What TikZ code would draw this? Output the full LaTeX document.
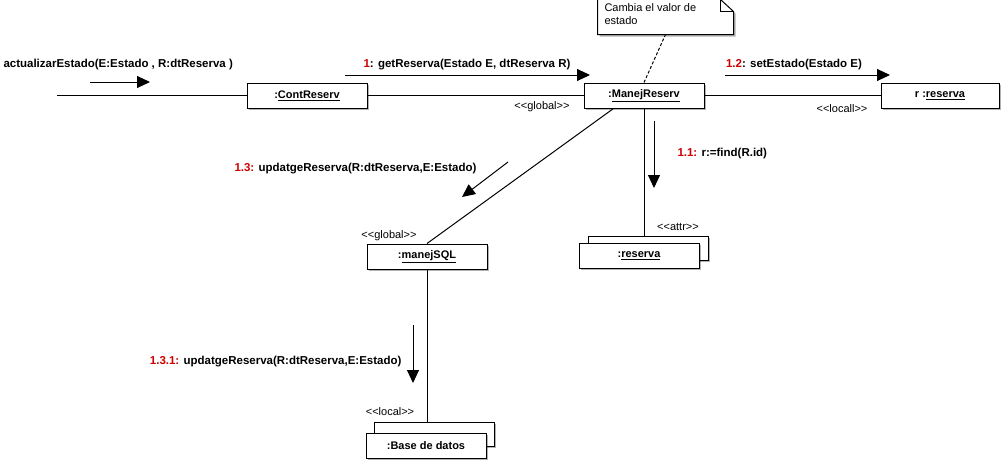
\documentclass[tikz,border=0pt]{standalone}
\usepackage{fontspec}
\setmainfont{Liberation Sans}
\usetikzlibrary{arrows.meta,shadows}
\definecolor{seqred}{RGB}{204,0,0}
\newcommand{\seqno}[1]{\textcolor{seqred}{#1}}
\newcommand{\stereotxt}[1]{<\kern0pt<#1>\kern0pt>}

\begin{document}
\begin{tikzpicture}[x=1pt,y=-1pt,line width=1pt,
	shade/.style={drop shadow={shadow xshift=2pt,shadow yshift=-2pt,opacity=.3,fill=black}},
	obj/.style={draw,fill=white,shade,minimum width=120pt,minimum height=25pt,inner sep=0pt,
		font=\fontsize{11}{13}\selectfont\bfseries},
	msg/.style={-{Triangle[length=13pt,width=12pt]}},
	lbl/.style={font=\fontsize{11.5}{13}\selectfont\bfseries,inner sep=0pt},
	stereo/.style={font=\fontsize{11}{13}\selectfont,inner sep=0pt}]
	\useasboundingbox (0,0) rectangle (1006,463);
	% objects
	\node[obj] (cont) at (307,95.5) {:\underline{ContReserv}};
	\node[obj] (manej) at (644,95.5) {:\underline{ManejReserv}};
	\node[obj,minimum width=118pt] (rres) at (940,95.5) {r :\underline{reserva}};
	\node[obj,minimum height=24pt] (resback) at (648,248) {};
	\node[obj] (res) at (639,255.5) {:\underline{reserva}};
	\node[obj] (sql) at (427,256.5) {:\underline{manejSQL}};
	\node[obj,minimum height=24pt] (dbback) at (434,434) {};
	\node[obj] (db) at (426,445.5) {:Base de datos};
	% note
	\node[minimum width=135pt,minimum height=34pt,inner sep=0pt] (note) at (665.5,17) {};
	\draw[fill=white,shade] (note.south west) -- (note.north west) -- ([xshift=-13pt]note.north east)
		-- ([yshift=-12pt]note.north east) -- (note.south east) -- cycle;
	\draw ([xshift=-13pt]note.north east) |- ([yshift=-12pt]note.north east);
	\node[stereo,anchor=north west,align=left] (notetxt) at (604,3) {Cambia el valor de\\estado};
	\draw[dash pattern=on 3pt off 2pt] (manej.north) -- (note.south);
	% links
	\coordinate (start) at (57,95.5);
	\draw (start) -- (cont.west);
	\draw (cont.east) -- (manej.west);
	\draw (manej.east) -- (rres.west);
	\draw (manej.south) -- (manej.south |- resback.north);
	\draw (manej.south west) ++(30,0) -- (sql.north);
	\draw (sql.south) -- (sql.south |- dbback.north);
	% messages
	\coordinate (m0a) at (90,82);    \coordinate (m0b) at (150,82);
	\coordinate (m1a) at (345,75);   \coordinate (m1b) at (590,75);
	\coordinate (m2a) at (725,75);   \coordinate (m2b) at (890,75);
	\coordinate (m3a) at (654,121);  \coordinate (m3b) at (654,188);
	\coordinate (m4a) at (508,162);  \coordinate (m4b) at (462,197);
	\coordinate (m5a) at (413,325);  \coordinate (m5b) at (413,383);
	\draw[msg] (m0a) -- (m0b);
	\draw[msg] (m1a) -- (m1b);
	\draw[msg] (m2a) -- (m2b);
	\draw[msg] (m3a) -- (m3b);
	\draw[msg] (m4a) -- (m4b);
	\draw[msg] (m5a) -- (m5b);
	\node[lbl,anchor=west] (l0) at (3,65) {actualizarEstado(E:Estado , R:dtReserva )};
	\node[lbl] (l1) at (467,65) {\seqno{1}: getReserva(Estado E, dtReserva R)};
	\node[lbl] (l2) at (794,65) {\seqno{1.2}: setEstado(Estado E)};
	\node[lbl,anchor=west] (l3) at (677,154) {\seqno{1.1:} r:=find(R.id)};
	\node[lbl,anchor=east] (l4) at (477,169) {\seqno{1.3:} updatgeReserva(R:dtReserva,E:Estado)};
	\node[lbl,anchor=east] (l5) at (402,362) {\seqno{1.3.1:} updatgeReserva(R:dtReserva,E:Estado)};
	% stereotypes
	\node[stereo] (s1) at (542,107) {\stereotxt{global}};
	\node[stereo] (s2) at (842,109) {\stereotxt{locall}};
	\node[stereo] (s3) at (678,227) {\stereotxt{attr}};
	\node[stereo] (s4) at (389,236) {\stereotxt{global}};
	\node[stereo] (s5) at (390,412) {\stereotxt{local}};
\end{tikzpicture}
\end{document}
